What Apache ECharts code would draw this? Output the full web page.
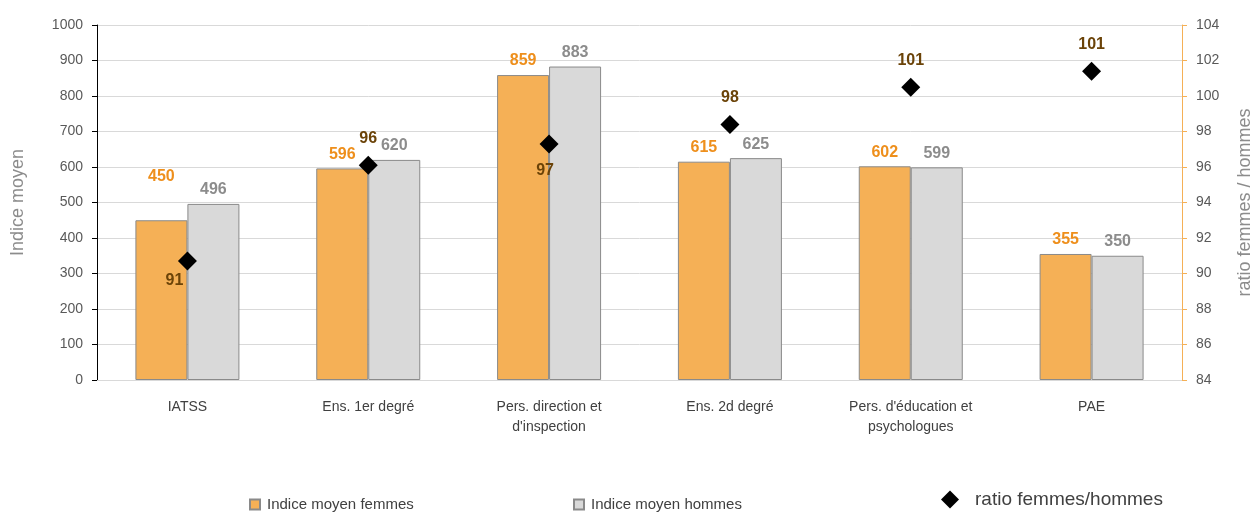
<!DOCTYPE html>
<html><head><meta charset="utf-8">
<script src="https://cdn.jsdelivr.net/npm/echarts@6/dist/echarts.min.js"></script>
<style>html,body{margin:0;padding:0;background:#fff}#c{width:1258px;height:512px}</style>
</head><body><div id="c"></div>
<script>
const categories = ["IATSS", "Ens. 1er degré", "Pers. direction et\nd'inspection", "Ens. 2d degré", "Pers. d'éducation et\npsychologues", "PAE"];
const femmes = [450, 596, 859, 615, 602, 355];
const hommes = [496, 620, 883, 625, 599, 350];
const ratio = [90.7, 96.1, 97.3, 98.4, 100.5, 101.4];
const leftTicks = {min: 0, max: 1000, interval: 100};
const rightTicks = {min: 84, max: 104, interval: 2};

const sans = "Liberation Sans";
const ratioLabelPos = ['bottomLeft','top','bottom','top','top','top'];

const chart = echarts.init(document.getElementById('c'));
chart.setOption({
  animation: false,
  grid: {left: 97, right: 76, top: 25, bottom: 132, containLabel: false, outerBoundsMode: 'none'},
  legend: [
    {left: 244, top: 492, icon: 'rect', itemWidth: 10, itemHeight: 10, data: ['Indice moyen femmes'], textStyle: {fontFamily: sans, fontSize: 15, color: '#404040', padding: [0, 0, 0, 2]}},
    {left: 568, top: 492, icon: 'rect', itemWidth: 10, itemHeight: 10, data: ['Indice moyen hommes'], textStyle: {fontFamily: sans, fontSize: 15, color: '#404040', padding: [0, 0, 0, 2]}},
    {left: 936, top: 485, itemWidth: 18, itemHeight: 18, data: ['ratio femmes/hommes'], textStyle: {fontFamily: sans, fontSize: 19, color: '#404040', padding: [0, 0, 0, 11]}}
  ],
  xAxis: {
    type: 'category', data: categories,
    axisLine: {lineStyle: {color: '#d9d9d9'}},
    axisTick: {show: false},
    axisLabel: {margin: 17, fontFamily: sans, fontSize: 14, color: '#404040', lineHeight: 20, interval: 0}
  },
  yAxis: [
    {type: 'value', min: leftTicks.min, max: leftTicks.max, interval: leftTicks.interval,
     name: 'Indice moyen', nameLocation: 'middle', nameGap: 70,
     nameTextStyle: {fontFamily: sans, fontSize: 18, color: '#8c8c8c'},
     axisLine: {show: true, lineStyle: {color: '#000', width: 1}},
     axisTick: {show: true, length: 5, lineStyle: {color: '#000'}},
     axisLabel: {margin: 14, fontFamily: sans, fontSize: 14, color: '#595959', formatter: v => String(v)},
     splitLine: {lineStyle: {color: '#d9d9d9', width: 1}}},
    {type: 'value', min: rightTicks.min, max: rightTicks.max, interval: rightTicks.interval,
     name: 'ratio femmes / hommes', nameLocation: 'middle', nameGap: 54,
     nameTextStyle: {fontFamily: sans, fontSize: 18, color: '#8c8c8c'},
     axisLine: {show: true, lineStyle: {color: '#F5B056', width: 1}},
     axisTick: {show: true, length: 5, lineStyle: {color: '#F5B056'}},
     axisLabel: {margin: 14, fontFamily: sans, fontSize: 14, color: '#595959'},
     splitLine: {show: false}}
  ],
  series: [
    {name: 'Indice moyen femmes', type: 'bar', barWidth: 52, barGap: '0%',
     itemStyle: {color: '#F5B056', borderColor: '#8a8a8a', borderWidth: 1},
     label: {show: true, position: 'top', distance: 6, fontFamily: sans, fontWeight: 'bold', fontSize: 16, color: '#EE8F1C'},
     data: femmes.map((v, i) => i === 0 ? {value: v, label: {offset: [0, -30]}} : v)},
    {name: 'Indice moyen hommes', type: 'bar', barWidth: 52,
     itemStyle: {color: '#D9D9D9', borderColor: '#8a8a8a', borderWidth: 1},
     label: {show: true, position: 'top', distance: 6, fontFamily: sans, fontWeight: 'bold', fontSize: 16, color: '#8c8c8c'},
     data: hommes},
    {name: 'ratio femmes/hommes', type: 'scatter', yAxisIndex: 1, symbol: 'diamond', symbolSize: [19, 19],
     itemStyle: {color: '#000', opacity: 1}, z: 5,
     label: {show: true, fontFamily: sans, fontWeight: 'bold', fontSize: 16, color: '#6B4308',
       formatter: p => Math.round(p.value)},
     data: ratio.map((v, i) => {
       const pos = ratioLabelPos[i];
       let lab;
       if (pos === 'bottomLeft') lab = {position: 'bottom', offset: [-13, 0], distance: 2};
       else if (pos === 'bottom') lab = {position: 'bottom', offset: [-4, 0], distance: 9};
       else lab = {position: 'top', distance: 9};
       return {value: v, label: lab};
     })}
  ]
});
</script></body></html>
